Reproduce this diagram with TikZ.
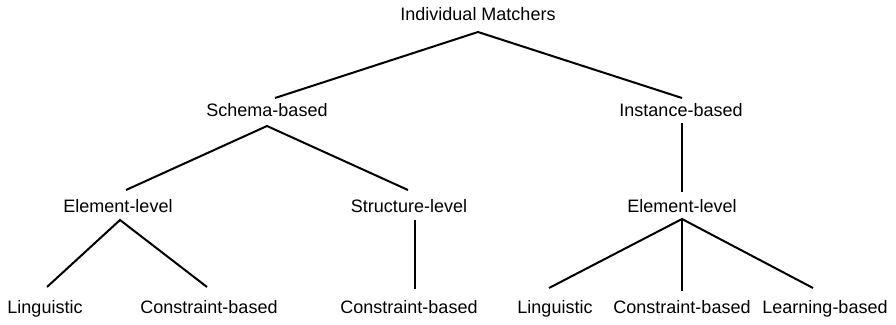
\documentclass[tikz,border=0pt]{standalone}
\usepackage{fontspec}
\setmainfont{Liberation Sans}
\begin{document}
\begin{tikzpicture}[x=1pt,y=-1pt,
  lbl/.style={anchor=base,inner sep=0pt,font=\fontsize{18}{21.6}\selectfont},
  edge/.style={line width=2pt,black}]
\useasboundingbox (0,0) rectangle (896,324);
% nodes (baseline positions)
\node[lbl] (root) at (478,20) {Individual Matchers};
\node[lbl] (schema) at (267,116) {Schema-based};
\node[lbl] (inst) at (681,116) {Instance-based};
\node[lbl] (elemL) at (118,212) {Element-level};
\node[lbl] (struct) at (409,212) {Structure-level};
\node[lbl] (elemR) at (682,212) {Element-level};
\node[lbl] (ling1) at (45,313) {Linguistic};
\node[lbl] (cons1) at (209,313) {Constraint-based};
\node[lbl] (cons2) at (409,313) {Constraint-based};
\node[lbl] (ling2) at (555,313) {Linguistic};
\node[lbl] (cons3) at (682,313) {Constraint-based};
\node[lbl] (learn) at (825,313) {Learning-based};
% connector ends
\coordinate (rootB) at (478,32);
\coordinate (schemaT) at (275,98);
\coordinate (instT) at (682,98);
\coordinate (schemaB) at (267,126);
\coordinate (elemLT) at (126,190);
\coordinate (structT) at (408,190);
\coordinate (instB) at (682,123);
\coordinate (elemRT) at (682,192);
\coordinate (elemLB) at (120,220);
\coordinate (ling1T) at (47,287);
\coordinate (cons1T) at (207,287);
\coordinate (structB) at (415,220);
\coordinate (cons2T) at (415,289);
\coordinate (elemRB) at (682,219);
\coordinate (ling2T) at (549,288);
\coordinate (cons3T) at (682,291);
\coordinate (learnT) at (813,288);
% connectors
\draw[edge] (schemaT) -- (rootB) -- (instT);
\draw[edge] (elemLT) -- (schemaB) -- (structT);
\draw[edge] (instB) -- (elemRT);
\draw[edge] (ling1T) -- (elemLB) -- (cons1T);
\draw[edge] (structB) -- (cons2T);
\draw[edge] (ling2T) -- (elemRB) -- (learnT);
\draw[edge] (elemRB) -- (cons3T);
\end{tikzpicture}
\end{document}
